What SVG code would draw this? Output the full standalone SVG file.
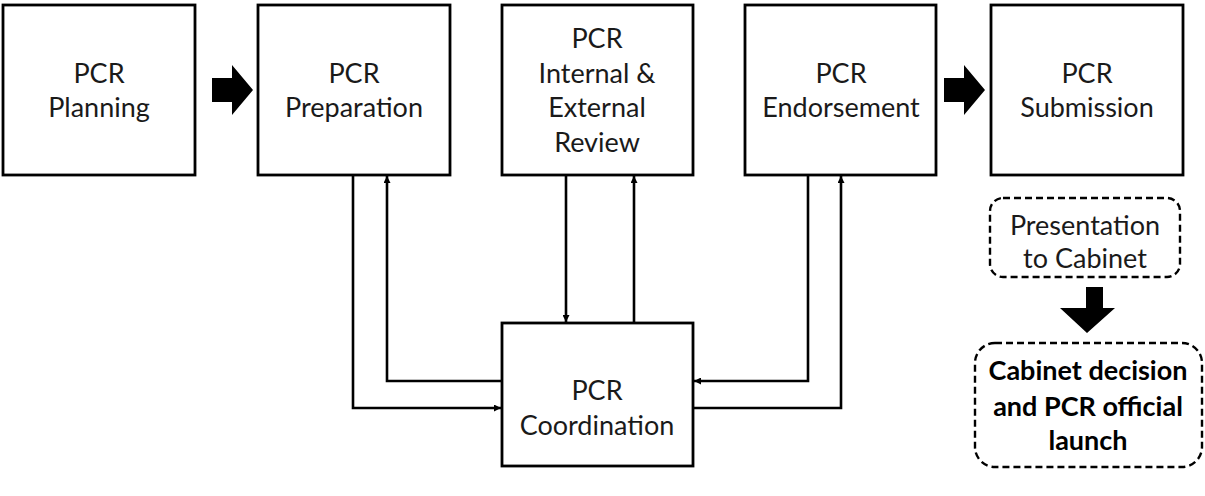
<svg xmlns="http://www.w3.org/2000/svg" width="1205" height="496" viewBox="0 0 1205 496">
  <style>
    .box { fill: #ffffff; stroke: #000000; stroke-width: 2.8; }
    .dash { fill: #ffffff; stroke: #000000; stroke-width: 2.4; stroke-dasharray: 7 4; }
    .lbl { font-family: Lato, "Open Sans", sans-serif; font-size: 27px; fill: #1a1a1a; text-anchor: middle; }
    .bold { font-weight: bold; fill: #000000; }
    .link { fill: none; stroke: #000000; stroke-width: 2.6; }
    .big { fill: #000000; }
  </style>
  <defs>
    <marker id="tip" viewBox="0 0 10 10" refX="10" refY="5" markerWidth="7" markerHeight="7" markerUnits="userSpaceOnUse" orient="auto">
      <path d="M0,0 L10,5 L0,10 z" fill="#000000"/>
    </marker>
  </defs>
  <rect width="1205" height="496" fill="#ffffff"/>

  <g id="planning">
    <rect class="box" x="3" y="5" width="192" height="170"/>
    <text class="lbl" x="99" y="83">PCR</text>
    <text class="lbl" x="99" y="117">Planning</text>
  </g>

  <g id="preparation">
    <rect class="box" x="258" y="5" width="192" height="170"/>
    <text class="lbl" x="354" y="83">PCR</text>
    <text class="lbl" x="354" y="117">Preparation</text>
  </g>

  <g id="review">
    <rect class="box" x="502" y="5" width="191" height="170"/>
    <text class="lbl" x="597" y="48">PCR</text>
    <text class="lbl" x="597" y="83">Internal &amp;</text>
    <text class="lbl" x="597" y="117">External</text>
    <text class="lbl" x="597" y="152">Review</text>
  </g>

  <g id="endorsement">
    <rect class="box" x="745" y="5" width="191" height="170"/>
    <text class="lbl" x="841" y="83">PCR</text>
    <text class="lbl" x="841" y="117">Endorsement</text>
  </g>

  <g id="submission">
    <rect class="box" x="991" y="5" width="192" height="170"/>
    <text class="lbl" x="1087" y="83">PCR</text>
    <text class="lbl" x="1087" y="117">Submission</text>
  </g>

  <g id="coordination">
    <rect class="box" x="502" y="323" width="191" height="143"/>
    <text class="lbl" x="597" y="400">PCR</text>
    <text class="lbl" x="597" y="435">Coordination</text>
  </g>

  <g id="presentation">
    <rect class="dash" x="990" y="198" width="190" height="79" rx="13" ry="13"/>
    <text class="lbl" x="1085" y="235">Presentation</text>
    <text class="lbl" x="1085" y="268">to Cabinet</text>
  </g>

  <g id="decision">
    <rect class="dash" x="975" y="343" width="227" height="124" rx="20" ry="20"/>
    <text class="lbl bold" x="1088" y="380">Cabinet decision</text>
    <text class="lbl bold" x="1088" y="416">and PCR official</text>
    <text class="lbl bold" x="1088" y="450">launch</text>
  </g>

  <g id="connectors">
    <!-- block arrows along the main sequence -->
    <path class="big" d="M212,78 L232,78 L232,65 L253,90 L232,115 L232,102 L212,102 z"/>
    <path class="big" d="M944,78 L964,78 L964,65 L985,90 L964,115 L964,102 L944,102 z"/>
    <path class="big" d="M1086,287 L1103,287 L1103,308 L1115,308 L1087,333 L1060,308 L1086,308 z"/>

    <!-- preparation <-> coordination -->
    <path class="link" d="M353,175 L353,408 L501,408" marker-end="url(#tip)"/>
    <path class="link" d="M502,381 L387,381 L387,176" marker-end="url(#tip)"/>

    <!-- review <-> coordination -->
    <path class="link" d="M566,175 L566,322" marker-end="url(#tip)"/>
    <path class="link" d="M634,323 L634,176" marker-end="url(#tip)"/>

    <!-- endorsement <-> coordination -->
    <path class="link" d="M808,175 L808,381 L694,381" marker-end="url(#tip)"/>
    <path class="link" d="M693,408 L841,408 L841,176" marker-end="url(#tip)"/>
  </g>
</svg>
